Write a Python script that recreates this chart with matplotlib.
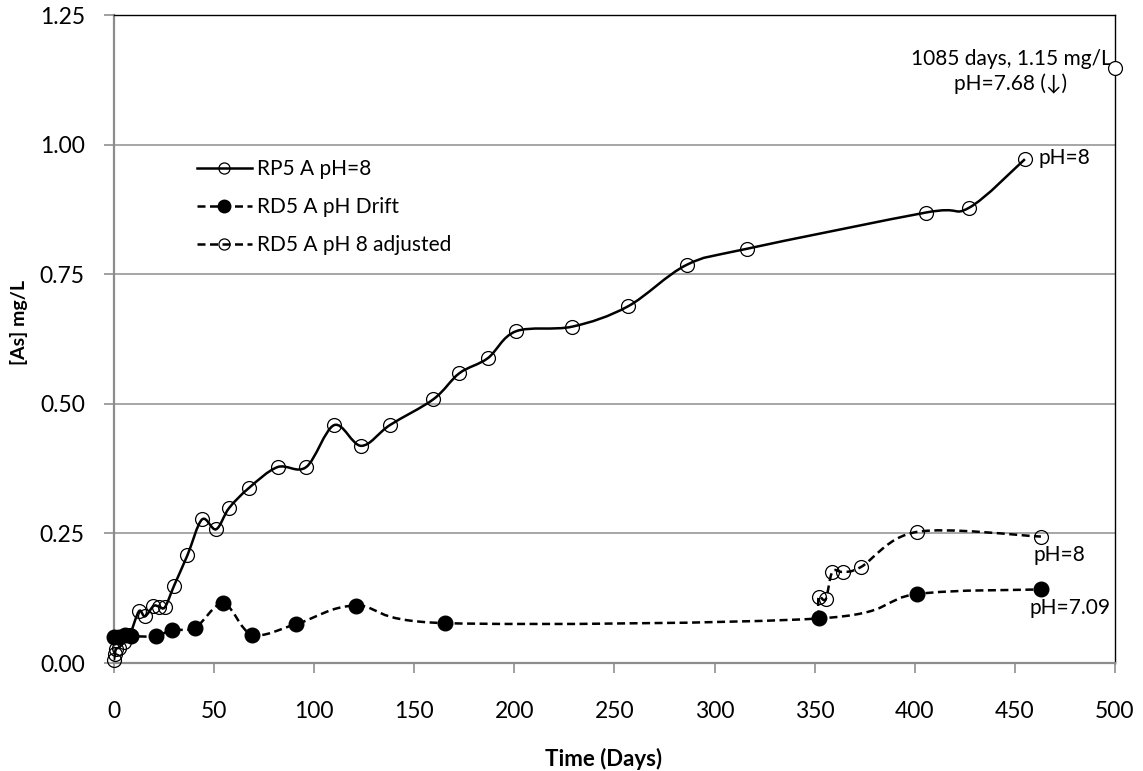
import matplotlib
matplotlib.use("Agg")
import matplotlib.pyplot as plt
import numpy as np
from matplotlib.path import Path
from matplotlib.patches import PathPatch
from matplotlib.lines import Line2D

plt.rcParams['font.family'] = ['Lato', 'DejaVu Sans']

# RP5 A pH=8 (open circles, solid line)
rp5_days = [0, 0.5, 1, 2.5, 5, 8, 12.5, 15.5, 19.7, 22.5, 25.5, 30, 36.7, 44, 51, 57.5,
            67.5, 81.7, 96, 110, 123.5, 137.8, 159.6, 172.5, 186.7, 200.8, 229, 256.7,
            286, 316, 405.5, 427, 455]
rp5_as = [0.006, 0.017, 0.027, 0.030, 0.040, 0.055, 0.100, 0.090, 0.110, 0.109, 0.108, 0.149,
          0.208, 0.277, 0.258, 0.299, 0.338, 0.378, 0.378, 0.459, 0.419, 0.459, 0.509,
          0.559, 0.588, 0.640, 0.649, 0.688, 0.768, 0.799, 0.869, 0.878, 0.972]

# RD5 A pH Drift (filled circles, dashed)
drift_days = [0, 2.5, 5.3, 8.7, 21, 29, 40.5, 54.7, 69, 91, 121, 165.5, 352, 401, 463]
drift_as = [0.051, 0.051, 0.054, 0.052, 0.052, 0.064, 0.068, 0.115, 0.055, 0.075, 0.111,
            0.077, 0.086, 0.133, 0.142]

# RD5 A pH 8 adjusted (open circles, dashed); starts from the drift point at day 352
adj_days = [352, 352, 355.5, 358.8, 364, 373, 401, 463]
adj_as = [0.086, 0.128, 0.123, 0.176, 0.176, 0.185, 0.253, 0.244]

# single point plotted at the axis edge (1085 days)
late_day = [500]
late_as = [1.148]


def smooth_path(xs, ys):
    # Excel-like smoothed line: cubic Bezier through the points
    p = np.column_stack([xs, ys]).astype(float)
    n = len(p)
    verts = [p[0]]
    codes = [Path.MOVETO]
    for i in range(n - 1):
        p0 = p[i - 1] if i > 0 else p[i]
        p3 = p[i + 2] if i + 2 < n else p[i + 1]
        c1 = p[i] + (p[i + 1] - p0) / 6.0
        c2 = p[i + 1] - (p3 - p[i]) / 6.0
        verts += [c1, c2, p[i + 1]]
        codes += [Path.CURVE4] * 3
    return Path(verts, codes)


fig = plt.figure(figsize=(11.43, 7.71), dpi=100)
ax = fig.add_axes([0.0997, 0.14, 0.8758, 0.8405])

dash = (3.2, 1.8)

ax.add_patch(PathPatch(smooth_path(rp5_days, rp5_as), fill=False, color='black', lw=1.8, zorder=3))
ax.add_patch(PathPatch(smooth_path(drift_days, drift_as), fill=False, color='black', lw=1.8,
                       linestyle=(0, dash), zorder=3))
ax.add_patch(PathPatch(smooth_path(adj_days, adj_as), fill=False, color='black', lw=1.8,
                       linestyle=(0, dash), zorder=3))

ax.plot(rp5_days, rp5_as, linestyle='none', marker='o', ms=10, mfc='none', mec='black',
        mew=0.9, zorder=4, clip_on=False)
ax.plot(drift_days, drift_as, linestyle='none', marker='o', ms=10.5, mfc='black', mec='black',
        zorder=4, clip_on=False)
ax.plot(adj_days[1:], adj_as[1:], linestyle='none', marker='o', ms=10, mfc='none', mec='black',
        mew=0.9, zorder=5, clip_on=False)
ax.plot(late_day, late_as, linestyle='none', marker='o', ms=10, mfc='white', mec='black',
        mew=0.9, zorder=5, clip_on=False)

ax.set_xlim(0, 500)
ax.set_ylim(0, 1.25)
ax.set_xticks(np.arange(0, 501, 50))
ax.set_yticks(np.arange(0, 1.26, 0.25))
ax.yaxis.set_major_formatter(matplotlib.ticker.FormatStrFormatter('%.2f'))
ax.tick_params(axis='both', direction='out', length=7, width=1.2, color='#909090',
               labelsize=16.5)
ax.tick_params(axis='x', pad=20)
ax.tick_params(axis='y', pad=14)
ax.grid(axis='y', color='#a6a6a6', lw=1.4)
ax.set_axisbelow(True)
for s in ['left', 'bottom']:
    ax.spines[s].set_color('#8c8c8c')
    ax.spines[s].set_linewidth(1.6)
for s in ['top', 'right']:
    ax.spines[s].set_color('black')
    ax.spines[s].set_linewidth(1.0)

ax.set_xlabel('Time (Days)', fontsize=16, fontweight='bold')
ax.set_ylabel('[As] mg/L', fontsize=14, fontweight='bold')
ax.xaxis.set_label_coords(0.4895, -0.131)
ax.yaxis.set_label_coords(-0.086, 0.526)

handles = [
    Line2D([], [], color='black', lw=1.8, marker='o', ms=8, mfc='none', mec='black', mew=0.9),
    Line2D([], [], color='black', lw=1.8, linestyle=(0, dash), marker='o', ms=9, mfc='black'),
    Line2D([], [], color='black', lw=1.8, linestyle=(0, dash), marker='o', ms=8, mfc='none',
           mec='black', mew=0.9),
]
labels = ['RP5 A pH=8', 'RD5 A pH Drift', 'RD5 A pH 8 adjusted']
ax.legend(handles, labels, loc='upper left', bbox_to_anchor=(0.075, 0.79), frameon=False,
          fontsize=15, handlelength=2.6, handletextpad=0.25, labelspacing=0.85,
          borderaxespad=0)

ax.text(448, 1.141, '1085 days, 1.15 mg/L\npH=7.68 (\u2193)', ha='center', va='center',
        fontsize=15, linespacing=1.3)
ax.text(462, 0.975, 'pH=8', ha='left', va='center', fontsize=15)
ax.text(459.5, 0.208, 'pH=8', ha='left', va='center', fontsize=15)
ax.text(457.5, 0.106, 'pH=7.09', ha='left', va='center', fontsize=15)

fig.savefig('out.png', dpi=100)
